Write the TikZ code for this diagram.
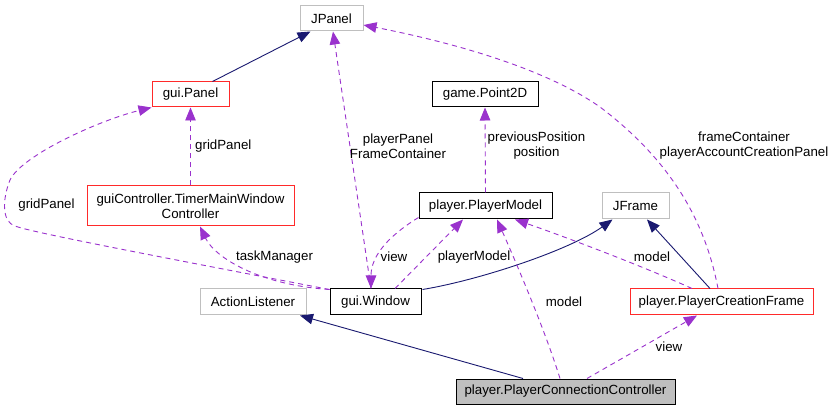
\documentclass[tikz,border=0pt]{standalone}
\usepackage{fontspec}
\setmainfont{Liberation Sans}
\usetikzlibrary{arrows.meta,calc}
\definecolor{edgepurple}{HTML}{9A32CD}
\definecolor{edgenavy}{HTML}{191970}
\definecolor{boxgray}{HTML}{BFBFBF}
\definecolor{boxred}{HTML}{FF2A2A}
\begin{document}
\begin{tikzpicture}[x=1pt,y=-1pt,
  every node/.style={font=\fontsize{13.3}{15}\selectfont},
  cls/.style={draw, line width=1pt, inner sep=0pt, align=center},
  clsgray/.style={cls, draw=boxgray},
  clsred/.style={cls, draw=boxred},
  clsblack/.style={cls, draw=black},
  dep/.style={draw=edgepurple, line width=0.9pt, dash pattern=on 5pt off 4pt, -{Triangle[length=13pt,width=10.5pt]}},
  inh/.style={draw=edgenavy, line width=0.9pt, -{Triangle[length=13pt,width=10.5pt]}},
  lbl/.style={inner sep=0pt, align=center}]
\useasboundingbox[fill=white] (0,0) rectangle (832,411);

% classes
\node[clsgray, minimum width=63pt, minimum height=25pt] (jpanel) at (331.5,18.5) {JPanel};
\node[clsred, minimum width=77pt, minimum height=25pt] (panel) at (190.5,94.5) {gui.Panel};
\node[clsred, minimum width=207pt, minimum height=40pt] (timer) at (190.5,206) {guiController.TimerMainWindow\\Controller};
\node[clsblack, minimum width=106pt, minimum height=25pt] (point) at (485,94.5) {game.Point2D};
\node[clsblack, minimum width=133pt, minimum height=26pt] (model) at (485.5,206) {player.PlayerModel};
\node[clsgray, minimum width=67pt, minimum height=26pt] (jframe) at (635.5,206) {JFrame};
\node[clsblack, minimum width=91pt, minimum height=26pt] (window) at (375.5,302) {gui.Window};
\node[clsgray, minimum width=106pt, minimum height=26pt] (action) at (253,302) {ActionListener};
\node[clsred, minimum width=183pt, minimum height=26pt] (creation) at (721.5,302) {player.PlayerCreationFrame};
\node[cls, draw=black, fill=boxgray, minimum width=219pt, minimum height=25pt] (connection) at (565.5,391.5) {player.PlayerConnectionController};

% inheritance
\draw[inh] ($(panel.north)+(22,0)$) -- ($(jpanel.south)+(-21,0)$);
\draw[inh] ($(window.north east)+(1,1)$) .. controls (480,280) and (570,250) .. ($(jframe.south west)+(11,0)$);
\draw[inh] ($(creation.north)+(-11.5,0)$) -- ($(jframe.south)+(11.5,0)$);
\draw[inh] ($(connection.north)+(-42.5,0)$) -- ($(action.south)+(47,0)$);

% usage
\draw[dep] (timer.north) -- (panel.south);
\node[lbl, anchor=west] (lgrid1) at (195,146) {gridPanel};

\draw[dep] ($(window.north west)+(0,1)$) .. controls (150,255) and (30,232) .. (15,226)
  .. controls (2,222) and (2,200) .. (10,180) .. controls (22,155) and (100,120) .. (panel.south west);
\node[lbl] (lgrid2) at (46.5,205) {gridPanel};

\draw[dep] ($(window.north west)+(0,1)$) .. controls (260,285) and (215,258) .. ($(timer.south)+(9.5,0)$);
\node[lbl] (ltask) at (274.5,257) {taskManager};

\draw[dep] ($(window.north)+(-4.5,0)$) -- ($(jpanel.south)+(1.5,0)$);
\node[lbl] (lpp) at (398,146) {playerPanel\\FrameContainer};

\draw[dep] ($(model.south west)+(0,-2)$) .. controls (390,235) and (371,255) .. ($(window.north)+(-4.5,0)$);
\node[lbl] (lview1) at (394,257) {view};

\draw[dep] ($(window.north)+(19.5,0)$) -- ($(model.south)+(-22.5,0)$);
\node[lbl] (lpm) at (474,257) {playerModel};

\draw[dep] (model.north) -- (point.south);
\node[lbl] (lpos) at (536.5,146) {previousPosition\\position};

\draw[dep] ($(creation.north)+(-29.5,0)$) .. controls (640,265) and (560,235) .. ($(model.south)+(29.5,0)$);
\node[lbl] (lmodel1) at (652,257) {model};

\draw[dep] ($(connection.north)+(-5.5,0)$) .. controls (545,330) and (515,260) .. ($(model.south)+(11.5,0)$);
\node[lbl] (lmodel2) at (564,302) {model};

\draw[dep] ($(connection.north)+(21.5,0)$) -- ($(creation.south)+(-24.5,0)$);
\node[lbl] (lview2) at (669,347) {view};

\draw[dep] ($(creation.north)+(-3.5,0)$) .. controls (705,220) and (670,160) .. (600,107)
  .. controls (540,65) and (440,40) .. ($(jpanel.east)+(0,6.5)$);
\node[lbl] (lfc) at (744,146) {frameContainer\\playerAccountCreationPanel};
\end{tikzpicture}
\end{document}
